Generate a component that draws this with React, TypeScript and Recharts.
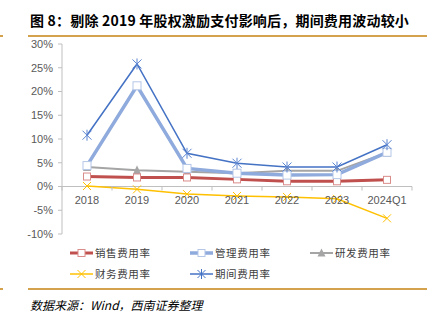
import React from 'react';
import { LineChart, Line, XAxis, YAxis, ReferenceLine } from 'recharts';

const categories = ['2018', '2019', '2020', '2021', '2022', '2023', '2024Q1'];
const salesRate = [2.1, 1.9, 1.9, 1.5, 1.1, 1.1, 1.4];
const adminRate = [4.4, 21.2, 3.8, 2.8, 2.4, 2.5, 7.2];
const rdRate = [4.1, 3.4, 3.1, 2.8, 3.3, 3.3, 7.1];
const finRate = [0.1, -0.6, -1.6, -2.0, -2.2, -2.6, -6.7];
const periodRate = [10.8, 25.8, 7.0, 4.9, 4.1, 4.1, 8.8];
const yTicks = [-10, -5, 0, 5, 10, 15, 20, 25, 30];

const data = categories.map((c, i) => ({
  name: c,
  sales: salesRate[i],
  admin: adminRate[i],
  rd: rdRate[i],
  fin: finRate[i],
  period: periodRate[i],
}));

const W = 440;
const H = 325;
const TOP = 44;
const BOTTOM = 234;
const LEFT = 62;
const RIGHT = 412;
const Y_MIN = -10;
const Y_MAX = 30;
const X_AXIS_H = 30;
const zeroY = TOP + ((Y_MAX - 0) / (Y_MAX - Y_MIN)) * (BOTTOM - TOP);
const band = (RIGHT - LEFT) / categories.length;

const FONT = '"Liberation Sans", Arial, sans-serif';
const CJK = '"Noto Sans CJK SC", sans-serif';

const C_SALES = '#c0504d';
const C_ADMIN = '#8faadc';
const C_RD = '#a5a5a5';
const C_FIN = '#ffc000';
const C_PERIOD = '#4472c4';

const SquareDot = (color: string, fill: string, s: number) => (props: any) => {
  const { cx, cy } = props;
  if (cx == null || cy == null) return <g />;
  return <rect x={cx - s / 2} y={cy - s / 2} width={s} height={s} fill={fill} stroke={color} strokeWidth={1} />;
};
const TriDot = (color: string, s: number) => (props: any) => {
  const { cx, cy } = props;
  if (cx == null || cy == null) return <g />;
  return <path d={`M${cx},${cy - s / 2 - 1} L${cx + s / 2},${cy + s / 2} L${cx - s / 2},${cy + s / 2} Z`} fill={color} />;
};
const XDot = (color: string, s: number) => (props: any) => {
  const { cx, cy } = props;
  if (cx == null || cy == null) return <g />;
  const h = s / 2;
  return (
    <g stroke={color} strokeWidth={1}>
      <line x1={cx - h} y1={cy - h} x2={cx + h} y2={cy + h} />
      <line x1={cx - h} y1={cy + h} x2={cx + h} y2={cy - h} />
    </g>
  );
};
const StarDot = (color: string, s: number) => (props: any) => {
  const { cx, cy } = props;
  if (cx == null || cy == null) return <g />;
  const h = s / 2;
  return (
    <g stroke={color} strokeWidth={1}>
      <line x1={cx - h} y1={cy - h} x2={cx + h} y2={cy + h} />
      <line x1={cx - h} y1={cy + h} x2={cx + h} y2={cy - h} />
      <line x1={cx} y1={cy - h - 1} x2={cx} y2={cy + h + 1} />
    </g>
  );
};

const XTick = (props: any) => {
  const { x, payload, index } = props;
  const last = index === categories.length - 1;
  return (
    <g>
      <line x1={x - band / 2} y1={zeroY} x2={x - band / 2} y2={zeroY + 4} stroke="#bfbfbf" />
      {last && <line x1={x + band / 2} y1={zeroY} x2={x + band / 2} y2={zeroY + 4} stroke="#bfbfbf" />}
      <text x={x} y={zeroY + 17} textAnchor="middle" fontSize={11} fill="#595959" fontFamily={FONT}>
        {payload.value}
      </text>
    </g>
  );
};

const legendItems = [
  { label: '销售费用率', color: C_SALES, w: 3, kind: 'sq', mfill: '#fff', mstroke: '#d98c8a', x: 70, y: 253 },
  { label: '管理费用率', color: C_ADMIN, w: 3.5, kind: 'sq', mfill: '#fff', mstroke: '#b4c7e7', x: 190, y: 253 },
  { label: '研发费用率', color: C_RD, w: 2, kind: 'tri', x: 310, y: 253 },
  { label: '财务费用率', color: C_FIN, w: 1.5, kind: 'x', x: 70, y: 274 },
  { label: '期间费用率', color: C_PERIOD, w: 1.5, kind: 'star', x: 190, y: 274 },
];

const LegendIcon = ({ it }: { it: any }) => {
  const cx = 11.5;
  const cy = 6;
  return (
    <svg width={23} height={12} style={{ display: 'block' }}>
      <line x1={0} y1={cy} x2={23} y2={cy} stroke={it.color} strokeWidth={it.w} />
      {it.kind === 'sq' && <rect x={cx - 3.5} y={cy - 3.5} width={7} height={7} fill={it.mfill} stroke={it.mstroke} />}
      {it.kind === 'tri' && <path d={`M${cx},${cy - 4.5} L${cx + 4},${cy + 3.5} L${cx - 4},${cy + 3.5} Z`} fill={it.color} />}
      {(it.kind === 'x' || it.kind === 'star') && (
        <g stroke={it.color} strokeWidth={1}>
          <line x1={cx - 4} y1={cy - 4} x2={cx + 4} y2={cy + 4} />
          <line x1={cx - 4} y1={cy + 4} x2={cx + 4} y2={cy - 4} />
          {it.kind === 'star' && <line x1={cx} y1={cy - 5} x2={cx} y2={cy + 5} />}
        </g>
      )}
    </svg>
  );
};

export default function App() {
  return (
    <div style={{ position: 'relative', width: W, height: H, background: '#fff', overflow: 'hidden' }}>
      <style>{'body{margin:0;}'}</style>
      <div
        style={{
          position: 'absolute', left: 30, top: 10, fontFamily: CJK, fontWeight: 700,
          fontSize: 14, color: '#000', whiteSpace: 'nowrap', lineHeight: '20px', letterSpacing: 0.2,
        }}
      >
        图 8：剔除 2019 年股权激励支付影响后，期间费用波动较小
      </div>
      <div style={{ position: 'absolute', left: 28, top: 35, width: 399, height: 2, background: '#d4a24c' }} />
      <div style={{ position: 'absolute', left: 0, top: 35, width: 3, height: 2, background: '#d4a24c' }} />
      <div style={{ position: 'absolute', left: 28, top: 288, width: 399, height: 2, background: '#d4a24c' }} />
      <div style={{ position: 'absolute', left: 0, top: 288, width: 3, height: 2, background: '#d4a24c' }} />
      <div style={{ position: 'absolute', left: 0, top: 0 }}>
        <LineChart
          width={W}
          height={H}
          data={data}
          margin={{ top: TOP, right: W - RIGHT, left: 0, bottom: H - BOTTOM - X_AXIS_H }}
        >
          <ReferenceLine y={0} stroke="#bfbfbf" strokeWidth={1} />
          <XAxis
            dataKey="name"
            height={X_AXIS_H}
            axisLine={false}
            tickLine={false}
            tick={<XTick />}
            interval={0}
            padding={{ left: band / 2, right: band / 2 }}
          />
          <YAxis
            width={LEFT}
            domain={[Y_MIN, Y_MAX]}
            ticks={yTicks}
            tickFormatter={(v: number) => `${v}%`}
            axisLine={{ stroke: '#bfbfbf' }}
            tickLine={{ stroke: '#bfbfbf' }}
            tickSize={4}
            tickMargin={5}
            tick={{ fontSize: 11, fill: '#595959', fontFamily: FONT }}
          />
          <Line dataKey="fin" stroke={C_FIN} strokeWidth={1.5} dot={XDot(C_FIN, 8)} isAnimationActive={false} />
          <Line dataKey="rd" stroke={C_RD} strokeWidth={2} dot={TriDot(C_RD, 8)} isAnimationActive={false} />
          <Line dataKey="sales" stroke={C_SALES} strokeWidth={3} dot={SquareDot('#d98c8a', '#fff', 7)} isAnimationActive={false} />
          <Line dataKey="admin" stroke={C_ADMIN} strokeWidth={3.5} dot={SquareDot('#b4c7e7', '#fff', 8)} isAnimationActive={false} />
          <Line dataKey="period" stroke={C_PERIOD} strokeWidth={1.5} dot={StarDot('#5b84d0', 9)} isAnimationActive={false} />
        </LineChart>
      </div>
      {legendItems.map((it) => (
        <div
          key={it.label}
          style={{ position: 'absolute', left: it.x, top: it.y - 7, display: 'flex', alignItems: 'center', height: 14 }}
        >
          <LegendIcon it={it} />
          <span style={{ fontFamily: CJK, fontSize: 10.5, color: '#404040', letterSpacing: 0.6, marginLeft: 2, lineHeight: '14px' }}>
            {it.label}
          </span>
        </div>
      ))}
      <div
        style={{
          position: 'absolute', left: 30, top: 296, fontFamily: CJK, fontStyle: 'italic',
          fontSize: 12, color: '#000', whiteSpace: 'nowrap', lineHeight: '18px',
        }}
      >
        数据来源：Wind，西南证券整理
      </div>
    </div>
  );
}
